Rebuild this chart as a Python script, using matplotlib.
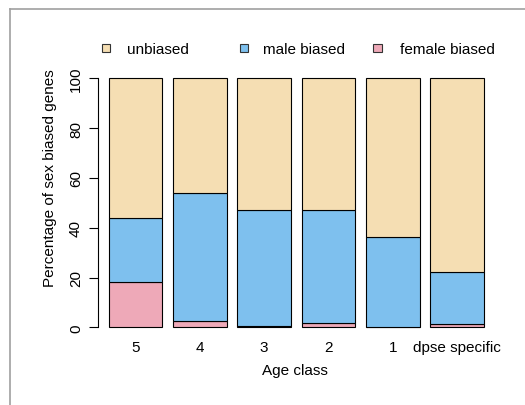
import matplotlib
matplotlib.use("Agg")
import matplotlib.pyplot as plt
from matplotlib.patches import Rectangle
from matplotlib.lines import Line2D
import numpy as np

plt.rcParams['font.family'] = ['Liberation Sans', 'DejaVu Sans']

categories = ["5", "4", "3", "2", "1", "dpse specific"]
series_names = ["unbiased", "male biased", "female biased"]
female_biased = [18.4, 2.4, 0.5, 1.9, 0.1, 1.5]
male_biased = [25.4, 51.7, 46.5, 45.3, 36.2, 20.9]
unbiased = [100 - f - m for f, m in zip(female_biased, male_biased)]
colors = ["#F5DEB3", "#7EC0EE", "#EEA9B8"]
yticks = [0, 20, 40, 60, 80, 100]

W, H = 525, 406
fig = plt.figure(figsize=(W / 100, H / 100), dpi=100)

def fx(px):
    return px / W

def fy(py):
    return (H - py) / H

ax_left, ax_right = 97.98, 97.98 + 7.36 * 53.6
ax_top, ax_bot = 17.5, 340.3
ax = fig.add_axes([fx(ax_left), fy(ax_bot), (ax_right - ax_left) / W, (ax_bot - ax_top) / H])

x = 0.7 + 1.2 * np.arange(len(categories))
bottom = np.zeros(len(categories))
stack = [female_biased, male_biased, unbiased]
stack_colors = [colors[2], colors[1], colors[0]]
for vals, c in zip(stack, stack_colors):
    ax.bar(x, vals, width=1.0, bottom=bottom, color=c, edgecolor="black", linewidth=0.8)
    bottom = bottom + np.array(vals)

ax.set_xlim(0, 7.36)
ax.set_ylim(-4.8, 124.8)
for s in ["top", "right", "bottom"]:
    ax.spines[s].set_visible(False)
ax.spines["left"].set_bounds(0, 100)
ax.spines["left"].set_linewidth(0.8)
ax.set_yticks(yticks)
ax.set_yticklabels([str(v) for v in yticks], rotation=90, va="center", fontsize=11)
ax.tick_params(axis="y", length=6.5, width=0.8, pad=4.2)
ax.set_xticks(x)
ax.set_xticklabels(categories, fontsize=11)
ax.tick_params(axis="x", length=0, pad=0.5)

fig.text(fx(295), fy(375), "Age class", ha="center", va="baseline", fontsize=11)
fig.text(fx(53.7), fy(178), "Percentage of sex biased genes", rotation=90,
         rotation_mode="anchor", ha="center", va="baseline", fontsize=11)

# legend
sq_x = [101.7, 240.0, 373.3]
txt_x = [126.7, 263.3, 400.0]
for name, c, sx, tx in zip(series_names, colors, sq_x, txt_x):
    fig.patches.append(Rectangle((fx(sx), fy(52.7)), 8.3 / W, 8.0 / H,
                                 transform=fig.transFigure, facecolor=c,
                                 edgecolor="#333333", linewidth=0.8))
    fig.text(fx(tx), fy(54), name, ha="left", va="baseline", fontsize=11)

# outer frame (left and top)
fig.add_artist(Line2D([fx(10), fx(10)], [0, fy(10)], transform=fig.transFigure, color="#A0A0A0", linewidth=1.2))
fig.add_artist(Line2D([fx(10), 1], [fy(10), fy(10)], transform=fig.transFigure, color="#A0A0A0", linewidth=1.2))

fig.savefig("out.png", dpi=100)
